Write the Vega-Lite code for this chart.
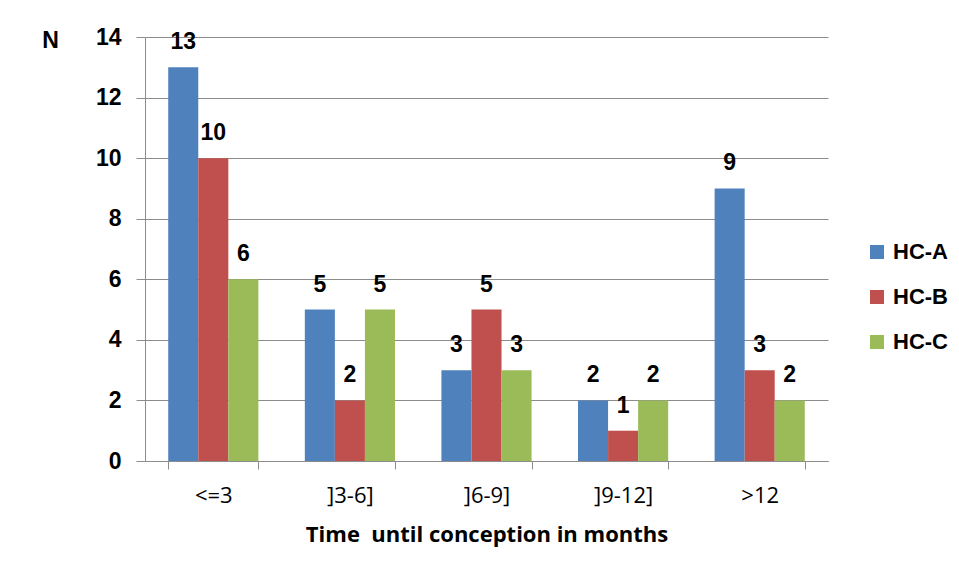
{
  "$schema": "https://vega.github.io/schema/vega-lite/v6.json",
  "width": 683,
  "height": 424,
  "autosize": {"type": "none"},
  "padding": {"left": 145, "top": 37, "right": 131, "bottom": 118},
  "background": "white",
  "data": {
    "values": [
      {"period": "<=3", "group": "HC-A", "n": 13},
      {"period": "<=3", "group": "HC-B", "n": 10},
      {"period": "<=3", "group": "HC-C", "n": 6},
      {"period": "]3-6]", "group": "HC-A", "n": 5},
      {"period": "]3-6]", "group": "HC-B", "n": 2},
      {"period": "]3-6]", "group": "HC-C", "n": 5},
      {"period": "]6-9]", "group": "HC-A", "n": 3},
      {"period": "]6-9]", "group": "HC-B", "n": 5},
      {"period": "]6-9]", "group": "HC-C", "n": 3},
      {"period": "]9-12]", "group": "HC-A", "n": 2},
      {"period": "]9-12]", "group": "HC-B", "n": 1},
      {"period": "]9-12]", "group": "HC-C", "n": 2},
      {"period": ">12", "group": "HC-A", "n": 9},
      {"period": ">12", "group": "HC-B", "n": 3},
      {"period": ">12", "group": "HC-C", "n": 2}
    ]
  },
  "encoding": {
    "x": {
      "field": "period",
      "type": "nominal",
      "sort": ["<=3", "]3-6]", "]6-9]", "]9-12]", ">12"],
      "scale": {"paddingInner": 0.34, "paddingOuter": 0.17},
      "axis": {
        "title": "Time\u00a0 until conception in months",
        "titleFont": "Open Sans",
        "titleFontSize": 22,
        "titleFontWeight": "bold",
        "titleColor": "#000000",
        "titlePadding": 18,
        "labelFont": "Open Sans",
        "labelFontSize": 22,
        "labelColor": "#000000",
        "labelAngle": 0,
        "labelPadding": 16,
        "tickBand": "extent",
        "tickSize": 8,
        "tickColor": "#8c8c8c",
        "domainColor": "#8c8c8c",
        "grid": false
      }
    },
    "xOffset": {
      "field": "group",
      "type": "nominal",
      "scale": {"paddingInner": 0, "paddingOuter": 0}
    },
    "y": {
      "field": "n",
      "type": "quantitative",
      "scale": {"domain": [0, 14]},
      "axis": {
        "values": [0, 2, 4, 6, 8, 10, 12, 14],
        "title": "N",
        "titleAngle": 0,
        "titleX": -95,
        "titleY": 10,
        "titleAlign": "center",
        "titleBaseline": "alphabetic",
        "titleFont": "Liberation Sans",
        "titleFontSize": 23,
        "titleFontWeight": "bold",
        "titleColor": "#000000",
        "labelFont": "Liberation Sans",
        "labelFontSize": 23,
        "labelFontWeight": "bold",
        "labelColor": "#000000",
        "labelPadding": 15,
        "tickSize": 9,
        "tickColor": "#8c8c8c",
        "domainColor": "#8c8c8c",
        "gridColor": "#8c8c8c",
        "gridWidth": 1
      }
    }
  },
  "layer": [
    {
      "mark": {"type": "bar"},
      "encoding": {
        "color": {
          "field": "group",
          "type": "nominal",
          "scale": {
            "domain": ["HC-A", "HC-B", "HC-C"],
            "range": ["#4F81BD", "#C0504D", "#9BBB59"]
          },
          "legend": {
            "title": null,
            "orient": "none",
            "legendX": 721,
            "legendY": 204,
            "symbolType": "square",
            "symbolSize": 196,
            "symbolStrokeWidth": 0,
            "rowPadding": 23,
            "labelOffset": 5,
            "labelFont": "Liberation Sans",
            "labelFontSize": 22,
            "labelFontWeight": "bold",
            "labelColor": "#000000"
          }
        }
      }
    },
    {
      "mark": {
        "type": "text",
        "baseline": "alphabetic",
        "dy": -18,
        "font": "Liberation Sans",
        "fontWeight": "bold",
        "fontSize": 23,
        "color": "#000000"
      },
      "encoding": {"text": {"field": "n", "type": "quantitative"}}
    }
  ],
  "config": {"view": {"stroke": null}}
}
